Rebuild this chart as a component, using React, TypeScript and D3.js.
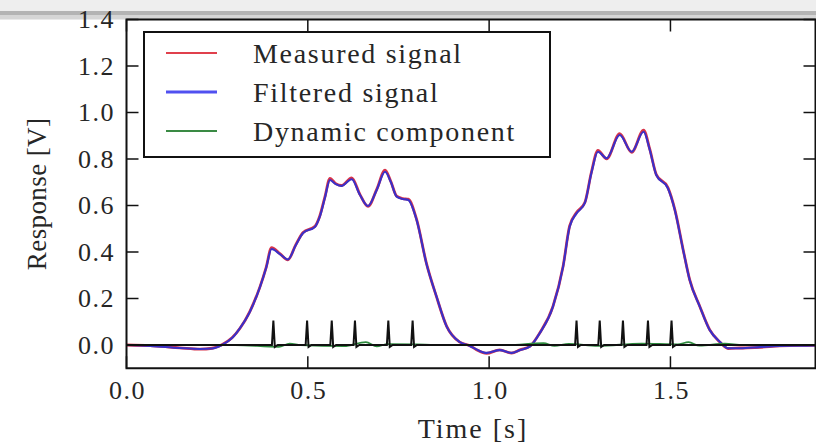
import React from "react";
import * as d3 from "d3";

const times = [0, 0.065, 0.147, 0.203, 0.236, 0.263, 0.291, 0.313, 0.340, 0.368, 0.385, 0.400, 0.423, 0.445, 0.467, 0.487, 0.520, 0.533, 0.547, 0.561, 0.577, 0.593, 0.621, 0.644, 0.666, 0.690, 0.713, 0.729, 0.745, 0.762, 0.777, 0.800, 0.827, 0.855, 0.883, 0.919, 0.947, 0.965, 0.993, 1.029, 1.062, 1.085, 1.112, 1.140, 1.176, 1.204, 1.222, 1.241, 1.264, 1.282, 1.300, 1.324, 1.360, 1.393, 1.426, 1.443, 1.461, 1.493, 1.512, 1.535, 1.553, 1.581, 1.608, 1.636, 1.659, 1.691, 1.746, 1.801, 1.856, 1.9];

const filtered = [0, -0.004, -0.013, -0.017, -0.015, 0, 0.030, 0.073, 0.142, 0.249, 0.331, 0.413, 0.391, 0.368, 0.430, 0.482, 0.509, 0.552, 0.632, 0.710, 0.692, 0.684, 0.713, 0.645, 0.598, 0.667, 0.745, 0.701, 0.638, 0.628, 0.624, 0.538, 0.351, 0.208, 0.079, 0.013, -0.004, -0.019, -0.034, -0.022, -0.034, -0.022, -0.007, 0.052, 0.165, 0.337, 0.509, 0.566, 0.611, 0.740, 0.831, 0.803, 0.903, 0.831, 0.917, 0.839, 0.731, 0.674, 0.581, 0.409, 0.280, 0.165, 0.065, 0.014, -0.014, -0.014, -0.009, -0.004, -0.003, -0.002];

const measured = [0, -0.003, -0.012, -0.018, -0.014, 0.001, 0.031, 0.072, 0.144, 0.250, 0.333, 0.419, 0.393, 0.366, 0.432, 0.484, 0.511, 0.555, 0.636, 0.717, 0.694, 0.686, 0.719, 0.647, 0.596, 0.669, 0.752, 0.703, 0.640, 0.630, 0.627, 0.540, 0.352, 0.207, 0.080, 0.012, -0.003, -0.020, -0.036, -0.021, -0.035, -0.021, -0.006, 0.053, 0.166, 0.339, 0.512, 0.570, 0.613, 0.743, 0.837, 0.801, 0.909, 0.829, 0.924, 0.842, 0.733, 0.677, 0.583, 0.410, 0.281, 0.166, 0.066, 0.013, -0.015, -0.013, -0.010, -0.004, -0.002, -0.002];

const dynTimes = [0, 0.30, 0.42, 0.45, 0.48, 0.60, 0.66, 0.69, 0.72, 0.80, 0.85, 1.05, 1.15, 1.18, 1.22, 1.30, 1.42, 1.52, 1.55, 1.58, 1.65, 1.70, 1.9];
const dynamic = [0, 0, -0.008, 0.006, 0, -0.005, 0.012, -0.006, 0.004, 0.003, 0, 0, 0.008, -0.004, 0.005, -0.004, 0.006, 0.003, 0.012, -0.003, 0.006, 0, 0];

const spikeTimes = [0.405, 0.498, 0.566, 0.630, 0.722, 0.789, 1.241, 1.305, 1.369, 1.438, 1.503];
const spikeHeight = 0.105;

const xTicks = [0, 0.5, 1.0, 1.5];
const yTicks = [0, 0.2, 0.4, 0.6, 0.8, 1.0, 1.2, 1.4];

const legendLabels = ["Measured signal", "Filtered signal", "Dynamic component"];
const legendColors = ["#e0404c", "#5050f0", "#3a8a44"];

export default function App() {
  const W = 816, H = 446;
  const x = d3.scaleLinear().domain([0, 1.9]).range([126.5, 815.5]);
  const y = d3.scaleLinear().domain([-0.1, 1.4]).range([368.25, 19.5]);
  const line = d3.line<[number, number]>().x(d => x(d[0])).y(d => y(d[1])).curve(d3.curveMonotoneX);
  const lin = d3.line<[number, number]>().x(d => x(d[0])).y(d => y(d[1]));

  const measPts = times.map((t, i) => [t, measured[i]] as [number, number]);
  const filtPts = times.map((t, i) => [t, filtered[i]] as [number, number]);
  const dynPts = dynTimes.map((t, i) => [t, dynamic[i]] as [number, number]);
  const blackPts: [number, number][] = [[0, 0]];
  spikeTimes.forEach(t => {
    blackPts.push([t - 0.004, 0], [t, spikeHeight], [t + 0.004, -0.008], [t + 0.012, 0]);
  });
  blackPts.push([1.9, 0]);

  const font = "'Liberation Serif', 'Times New Roman', serif";
  const x0 = x.range()[0], x1 = x.range()[1], yTop = y.range()[1], yBot = y.range()[0];
  const tick = 12;
  const txt = "#262626";

  return (
    <svg width={W} height={H} style={{ position: "absolute", left: 0, top: 0, background: "#fff" }} fontFamily={font}>
      <rect x={0} y={0} width={W} height={11} fill="#eeeeee" />
      <rect x={0} y={11} width={W} height={4} fill="#b4b4b4" />
      <rect x={0} y={15} width={W} height={4.5} fill="#d6d6d6" />
      <defs>
        <clipPath id="plot">
          <rect x={x0} y={yTop} width={x1 - x0} height={yBot - yTop} />
        </clipPath>
      </defs>
      <g clipPath="url(#plot)">
        <path d={line(measPts) || ""} fill="none" stroke="#d8344a" strokeWidth={2.8} />
        <path d={line(filtPts) || ""} fill="none" stroke="#3a30c8" strokeWidth={2.1} />
        <path d={line(dynPts) || ""} fill="none" stroke="#2e8b3e" strokeWidth={1.8} />
        <path d={lin(blackPts) || ""} fill="none" stroke="#111" strokeWidth={2} />
      </g>
      {xTicks.map(t => (
        <g key={"xt" + t}>
          <line x1={x(t)} x2={x(t)} y1={yBot} y2={yBot - tick} stroke="#111" strokeWidth={1.5} />
          <line x1={x(t)} x2={x(t)} y1={yTop} y2={yTop + tick} stroke="#111" strokeWidth={1.5} />
          <text x={x(t) + 1} y={399} textAnchor="middle" fontSize={26} letterSpacing={1.5} fill={txt}>{t.toFixed(1)}</text>
        </g>
      ))}
      {yTicks.map(t => (
        <g key={"yt" + t}>
          <line x1={x0} x2={x0 + tick} y1={y(t)} y2={y(t)} stroke="#111" strokeWidth={1.5} />
          <line x1={x1} x2={x1 - tick} y1={y(t)} y2={y(t)} stroke="#111" strokeWidth={1.5} />
          <text x={115} y={y(t) + 8.5} textAnchor="end" fontSize={26} letterSpacing={1.5} fill={txt}>{t.toFixed(1)}</text>
        </g>
      ))}
      <rect x={x0} y={yTop} width={x1 - x0} height={yBot - yTop} fill="none" stroke="#111" strokeWidth={2} />
      <rect x={144} y={32} width={406} height={125} fill="#fff" stroke="#111" strokeWidth={2} />
      {legendLabels.map((lab, i) => (
        <g key={lab}>
          <line x1={166} x2={217} y1={53 + i * 39} y2={53 + i * 39} stroke={legendColors[i]} strokeWidth={i === 1 ? 3 : 2} />
          <text x={253} y={53 + i * 39 + 9.5} fontSize={28} letterSpacing={1.7} fill={txt}>{lab}</text>
        </g>
      ))}
      <text x={(x0 + x1) / 2 + 2} y={438} textAnchor="middle" fontSize={28} letterSpacing={2} fill={txt}>Time [s]</text>
      <text transform={`translate(46, ${(yTop + yBot) / 2}) rotate(-90)`} textAnchor="middle" fontSize={27} letterSpacing={0.4} fill={txt}>Response [V]</text>
    </svg>
  );
}
